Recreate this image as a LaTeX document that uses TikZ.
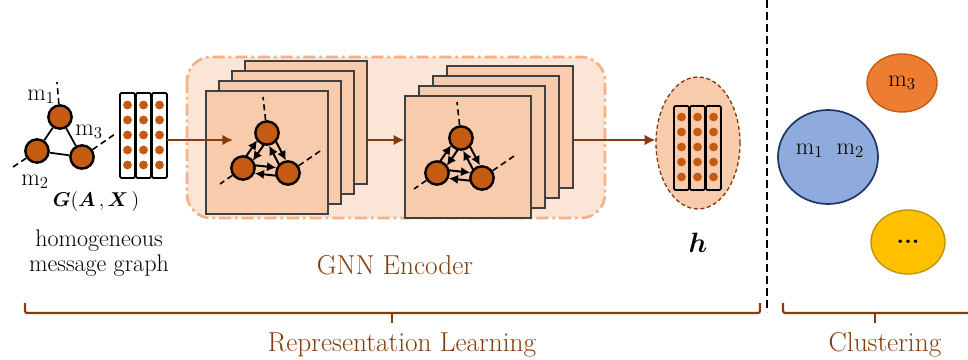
\RequirePackage{fix-cm}
\documentclass[tikz,border=0pt]{standalone}
\usepackage{bm}
\usetikzlibrary{calc,arrows.meta,shapes.geometric}

\definecolor{encbg}{HTML}{FBE5D6}
\definecolor{encline}{HTML}{F4B183}
\definecolor{layerfill}{HTML}{F8CBAD}
\definecolor{layerline}{HTML}{404040}
\definecolor{msgnode}{HTML}{C55A11}
\definecolor{rust}{HTML}{843C0C}
\definecolor{cluorange}{HTML}{ED7D31}
\definecolor{clublue}{HTML}{8FAADC}
\definecolor{clunavy}{HTML}{203864}
\definecolor{cluyellow}{HTML}{FFC000}

\begin{document}
\begin{tikzpicture}
      [x=0.75pt,y=-0.75pt
      ,layer/.style={fill=layerfill,draw=layerline,line width=1.2pt,inner sep=0pt}
      ,gn/.style={circle,fill=msgnode,draw=black,line width=1.8pt,minimum size=17.5pt,inner sep=0pt}
      ,stub/.style={black,line width=1.2pt,dash pattern=on 4.5pt off 3pt}
      ,edge/.style={black,line width=1.3pt}
      ,dar/.style={black,line width=1.5pt,-{Latex[length=7pt,width=7pt]}}
      ,col/.style={draw=black,line width=1.4pt,rounded corners=1pt}
      ,dot/.style={fill=msgnode}
      ,flow/.style={rust,line width=1.8pt,-{Latex[length=8pt,width=8pt]}}
      ,lbl/.style={font=\fontsize{18}{20}\selectfont,inner sep=1pt}
      ,clu/.style={ellipse,line width=1pt,inner sep=0pt,font=\fontsize{18}{20}\selectfont}
      ,brk/.style={rust,line width=1.6pt,rounded corners=1.5pt}
      ,captxt/.style={rust,font=\fontsize{20.5}{22}\selectfont}
      ]
        \useasboundingbox (0,0) rectangle (968,360);

        % encoder panel
        \draw[fill=encbg,draw=encline,line width=2pt,dash pattern=on 9pt off 3pt on 2pt off 3pt,rounded corners=18pt]
          (187,57) rectangle (605,218);

        % layer stacks, back to front
        \foreach \k in {3,2,1,0}{
          \node[layer,minimum width=91.5pt,minimum height=92.25pt] (s1\k) at (267+13*\k,152.5-10*\k) {};
          \node[layer,minimum width=94.5pt,minimum height=91.5pt] (s2\k) at (468+14*\k,157-10*\k) {};
        }

        % input graph
        \node[gn] (g1) at (60,117) {};
        \node[gn] (g2) at (37,151) {};
        \node[gn] (g3) at (82,157) {};
        \draw[edge] (g1) -- (g2) -- (g3) -- (g1);
        \draw[stub] (g1) -- ++(-3,-35);
        \draw[stub] (g2) -- ++(-24,16);
        \draw[stub] (g3) -- ++(33,-23);
        \node[lbl] (m1lab) at (41,97) {$\mathrm{m}_1$};
        \node[lbl] (m3lab) at (89,132) {$\mathrm{m}_3$};
        \node[lbl] (m2lab) at (35,182) {$\mathrm{m}_2$};
        \node[lbl,font=\fontsize{15}{18}\selectfont] (glab) at (96,201) {$\bm{G}(\bm{A}\,,\bm{X}\,)$};
        \node[font=\fontsize{18}{19}\selectfont,align=center] (gtxt) at (99,253) {homogeneous\\message graph};

        % feature matrix X
        \node[minimum width=35.25pt,minimum height=63.75pt,inner sep=0pt] (xmat) at (143.5,135.5) {};
        \foreach \c in {0,1,2}{
          \draw[col,fill=white] (120+16*\c,93) rectangle ++(15,85);
          \foreach \r in {0,...,4}
            \fill[dot] (127.5+16*\c,105+15*\r) circle (3.3pt);
        }

        % graphs inside the front layers
        \foreach \gx/\gy/\gn in {267/133/a,461/138/b}{
          \node[gn] (\gn1) at (\gx,\gy) {};
          \node[gn] (\gn2) at (\gx-24,\gy+35) {};
          \node[gn] (\gn3) at (\gx+21,\gy+40) {};
          \draw[stub] (\gn1) -- ++(-4,-36);
          \draw[stub] (\gn2) -- ++(-23,16);
          \draw[stub] (\gn3) -- ++(35,-24);
          \foreach \p/\q in {1/2,2/3,3/1}{
            \draw[dar] ($(\gn\p)!.25!(\gn\q)!3pt!90:(\gn\q)$) -- ($(\gn\q)!.27!(\gn\p)!3pt!-90:(\gn\p)$);
            \draw[dar] ($(\gn\q)!.25!(\gn\p)!3pt!90:(\gn\p)$) -- ($(\gn\p)!.27!(\gn\q)!3pt!-90:(\gn\q)$);
          }
        }
        \node[captxt] (enclab) at (395,265) {GNN Encoder};

        % embedding h
        \node[ellipse,fill=layerfill,draw=rust,line width=1pt,dash pattern=on 3pt off 2pt,
              minimum width=63pt,minimum height=99pt] (hemb) at (698,143) {};
        \foreach \c in {0,1,2}{
          \draw[col] (674+16*\c,106) rectangle ++(15,84);
          \foreach \r in {0,...,4}
            \fill[dot] (681.5+16*\c,117+15*\r) circle (3.3pt);
        }
        \node[font=\fontsize{21}{22}\selectfont] (hlab) at (698,243) {$\bm{h}$};

        % arrows
        \coordinate (xend) at (233,140);
        \draw[flow] (xmat.east |- xend) -- (xend);
        \draw[flow] (s13.east |- xend) -- (s20.west |- xend);
        \draw[flow] (s23.east |- xend) -- (hemb.west |- xend);

        % divider
        \draw[black,line width=2.2pt,dash pattern=on 6pt off 3pt] (767,0) -- (767,312);

        % clusters
        \node[clu,fill=cluorange,draw=msgnode,minimum width=52.5pt,minimum height=43.5pt] (c3) at (902,83) {$\mathrm{m}_3$};
        \node[clu,fill=clublue,draw=clunavy,line width=1.3pt,minimum width=75pt,minimum height=70.5pt] (c12) at (828,157) {};
        \node[lbl] (c12lab) at (830,151) {$\mathrm{m}_1\;\;\mathrm{m}_2$};
        \node[clu,fill=cluyellow,draw=cluyellow!75!black,minimum width=55.5pt,minimum height=48pt] (cdots) at (908,242) {\textbf{...}};

        % braces
        \draw[brk] (25,303) -- (25,313) -- (760,313) -- (760,303);
        \draw[brk] (392,313) -- (392,323);
        \draw[brk] (783,303) -- (783,313) -- (975,313);
        \draw[brk] (875,313) -- (875,323);
        \node[captxt] (replab) at (402,345) {Representation Learning};
        \node[captxt] (clulab) at (885,345) {Clustering};
      \end{tikzpicture}
\end{document}
